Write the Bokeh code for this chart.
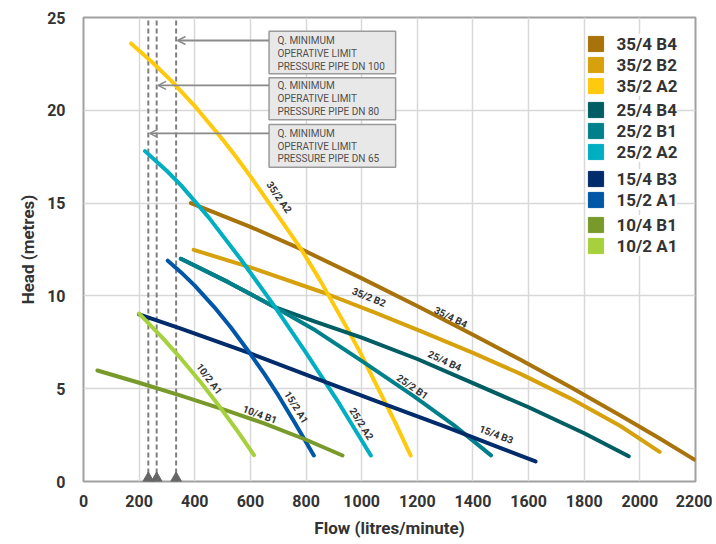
from bokeh.plotting import figure
from bokeh.models import (Range1d, FixedTicker, Legend, LegendItem, ColumnDataSource,
                          Arrow, OpenHead)
from bokeh.core.properties import value
from bokeh.embed import file_html
from bokeh.resources import INLINE

# ---------------- data ----------------
X_TICKS = [0, 200, 400, 600, 800, 1000, 1200, 1400, 1600, 1800, 2000, 2200]
Y_TICKS = [0, 5, 10, 15, 20, 25]

SERIES = ["35/4 B4", "35/2 B2", "35/2 A2",
          "25/4 B4", "25/2 B1", "25/2 A2",
          "15/4 B3", "15/2 A1",
          "10/4 B1", "10/2 A1"]
COLORS = ["#A8730A", "#D6A10C", "#FFC90E",
          "#005D63", "#00808A", "#00AEC1",
          "#002C6B", "#0057A8",
          "#789A2A", "#A6D03C"]

flow_35_4_B4 = [386, 600, 782, 997, 1212, 1400, 1571, 1750, 1930, 2070, 2196]
head_35_4_B4 = [15.0, 13.72, 12.52, 10.97, 9.36, 7.91, 6.56, 5.09, 3.56, 2.33, 1.18]

flow_35_2_B2 = [396, 600, 864, 1050, 1212, 1400, 1571, 1750, 1930, 2071]
head_35_2_B2 = [12.48, 11.54, 10.17, 9.09, 8.1, 6.93, 5.8, 4.48, 2.99, 1.6]

flow_35_2_A2 = [171, 250, 315, 400, 500, 553, 600, 700, 781, 850, 948, 1000, 1068, 1120, 1176]
head_35_2_A2 = [23.6, 22.55, 21.6, 20.23, 18.43, 17.4, 16.44, 14.3, 12.55, 10.85, 8.25,
                6.8, 4.75, 3.2, 1.4]

flow_25_4_B4 = [350, 520, 690, 835, 1000, 1200, 1400, 1600, 1800, 1960]
head_25_4_B4 = [12.0, 10.74, 9.38, 8.6, 7.75, 6.6, 5.3, 4.0, 2.6, 1.36]

flow_25_2_B1 = [350, 520, 690, 835, 1000, 1187, 1330, 1465]
head_25_2_B1 = [12.0, 10.74, 9.38, 8.13, 6.5, 4.6, 3.05, 1.41]

flow_25_2_A2 = [221, 300, 350, 450, 566, 680, 799, 920, 1033]
head_25_2_A2 = [17.8, 16.73, 15.97, 14.23, 11.96, 9.58, 6.96, 4.18, 1.4]

flow_15_4_B3 = [200, 350, 600, 828, 1050, 1300, 1500, 1625]
head_15_4_B3 = [9.0, 8.24, 6.9, 5.6, 4.35, 2.95, 1.8, 1.08]

flow_15_2_A1 = [303, 350, 400, 470, 530, 589, 650, 700, 760, 828]
head_15_2_A1 = [11.9, 11.28, 10.55, 9.4, 8.3, 7.1, 5.8, 4.65, 3.15, 1.4]

flow_10_4_B1 = [50, 200, 350, 500, 649, 800, 931]
head_10_4_B1 = [5.98, 5.32, 4.63, 3.9, 3.13, 2.25, 1.4]

flow_10_2_A1 = [200, 280, 350, 420, 480, 550, 613]
head_10_2_A1 = [9.05, 7.81, 6.63, 5.37, 4.22, 2.79, 1.42]

FLOWS = [flow_35_4_B4, flow_35_2_B2, flow_35_2_A2, flow_25_4_B4, flow_25_2_B1,
         flow_25_2_A2, flow_15_4_B3, flow_15_2_A1, flow_10_4_B1, flow_10_2_A1]
HEADS = [head_35_4_B4, head_35_2_B2, head_35_2_A2, head_25_4_B4, head_25_2_B1,
         head_25_2_A2, head_15_4_B3, head_15_2_A1, head_10_4_B1, head_10_2_A1]

# minimum operative flow limits (litres/minute)
PIPE_NAMES = ["PRESSURE PIPE DN 100", "PRESSURE PIPE DN 80", "PRESSURE PIPE DN 65"]
MIN_FLOW = [333, 263, 233]

# curve labels (flow, head, angle in degrees)
LABEL_TEXT = ["35/4 B4", "35/2 B2", "35/2 A2", "25/4 B4", "25/2 B1",
              "25/2 A2", "15/4 B3", "15/2 A1", "10/4 B1", "10/2 A1"]
LABEL_X = [1320, 1026, 703, 1298, 1182, 999, 1484, 765, 634, 452]
LABEL_Y = [8.85, 9.93, 15.32, 6.5, 5.1, 3.11, 2.53, 4.0, 3.61, 5.53]
LABEL_ANGLE = [-26, -22, -55, -25, -35, -58, -21, -58, -20, -53]

# ---------------- layout constants ----------------
BOX_LEFT, BOX_RIGHT = 667, 1122
BOX_TOP = [24.26, 21.75, 19.23]
BOX_BOTTOM = [21.97, 19.49, 16.93]
ARROW_Y = [23.76, 21.34, 18.76]
LINE_STEP = 0.69
TRI_Y = 0.17

TXT = "#333333"

p = figure(width=712, height=540, x_range=Range1d(0, 2200), y_range=Range1d(0, 25),
           output_backend="svg", toolbar_location=None,
           min_border_left=83, min_border_right=17, min_border_top=17, min_border_bottom=59)
p.background_fill_color = "white"
p.border_fill_color = "white"
p.outline_line_color = "#A0A0A0"
p.outline_line_width = 2

p.xaxis.ticker = FixedTicker(ticks=X_TICKS)
p.yaxis.ticker = FixedTicker(ticks=Y_TICKS)
for ax in (p.xaxis[0], p.yaxis[0]):
    ax.axis_line_color = None
    ax.major_tick_line_color = None
    ax.minor_tick_line_color = None
    ax.major_label_text_font = "Roboto"
    ax.major_label_text_font_style = "bold"
    ax.major_label_text_font_size = "16px"
    ax.major_label_text_color = TXT
    ax.axis_label_text_font = "Roboto"
    ax.axis_label_text_font_style = "bold"
    ax.axis_label_text_font_size = "17px"
    ax.axis_label_text_color = TXT
p.xaxis.axis_label = "Flow (litres/minute)"
p.yaxis.axis_label = "Head (metres)"
p.xaxis.major_label_standoff = 7
p.yaxis.major_label_standoff = 12
p.xaxis.axis_label_standoff = 8
p.yaxis.axis_label_standoff = 6

p.xgrid.grid_line_color = "#D8D8D8"
p.ygrid.grid_line_color = "#D8D8D8"
p.xgrid.grid_line_width = 1.5
p.ygrid.grid_line_width = 1.5

# minimum-flow dashed lines
for xf in MIN_FLOW:
    p.line(x=[xf, xf], y=[Y_TICKS[0], Y_TICKS[-1]], line_color="#7F7F7F",
           line_width=2, line_dash="5 3")
p.scatter(x=MIN_FLOW, y=[TRI_Y] * len(MIN_FLOW), marker="triangle", size=11,
          fill_color="#666666", line_color="#666666")

# info boxes + arrows
p.quad(left=[BOX_LEFT] * 3, right=[BOX_RIGHT] * 3, top=BOX_TOP, bottom=BOX_BOTTOM,
       fill_color="#E8E8E8", line_color="#9A9A9A", line_width=1.5)
for i, name in enumerate(PIPE_NAMES):
    p.add_layout(Arrow(end=OpenHead(size=8, line_color="#8A8A8A", line_width=1.5),
                       x_start=BOX_LEFT, y_start=ARROW_Y[i],
                       x_end=MIN_FLOW[i] + 5, y_end=ARROW_Y[i],
                       line_color="#8A8A8A", line_width=1.8))
    lines = ["Q. MINIMUM", "OPERATIVE LIMIT", name]
    p.text(x=[BOX_LEFT + 30] * 3,
           y=[ARROW_Y[i] - k * LINE_STEP for k in range(3)],
           text=lines, text_font=value("Roboto"), text_font_size="10px",
           text_color="#505050", text_baseline="middle", text_align="left")

# curves
for fx, hy, col in zip(FLOWS, HEADS, COLORS):
    p.line(x=fx, y=hy, line_color=col, line_width=4, line_cap="round", line_join="round")

# curve labels
lab = ColumnDataSource(dict(x=LABEL_X, y=LABEL_Y, text=LABEL_TEXT, angle=LABEL_ANGLE))
p.text(x="x", y="y", text="text", angle="angle", angle_units="deg", source=lab,
       text_font=value("Roboto"), text_font_style="bold", text_font_size="10px",
       text_color=TXT, text_align="center", text_baseline="middle")

# legend swatches (degenerate quads sitting on each curve's first point)
swatches = []
for name, col, fx, hy in zip(SERIES, COLORS, FLOWS, HEADS):
    src = ColumnDataSource(dict(left=[fx[0]], right=[fx[0]], top=[hy[0]], bottom=[hy[0]]))
    r = p.quad(left="left", right="right", top="top", bottom="bottom", source=src,
               fill_color=col, line_color=col, line_width=1)
    swatches.append(LegendItem(label=name, renderers=[r]))

groups = [(0, 3, 385.5), (3, 6, 319.5), (6, 8, 271.5), (8, 10, 225.5)]
for a, b, ly in groups:
    lg = Legend(items=swatches[a:b], location=(502.5, ly), padding=4, margin=0,
                spacing=1, glyph_width=19, glyph_height=19, label_height=19,
                label_standoff=12, border_line_color=None,
                background_fill_color="white", background_fill_alpha=1.0,
                label_text_font="Roboto", label_text_font_style="bold",
                label_text_font_size="17px", label_text_color=TXT)
    p.add_layout(lg, "center")

open("out.html", "w").write(file_html(p, INLINE))
